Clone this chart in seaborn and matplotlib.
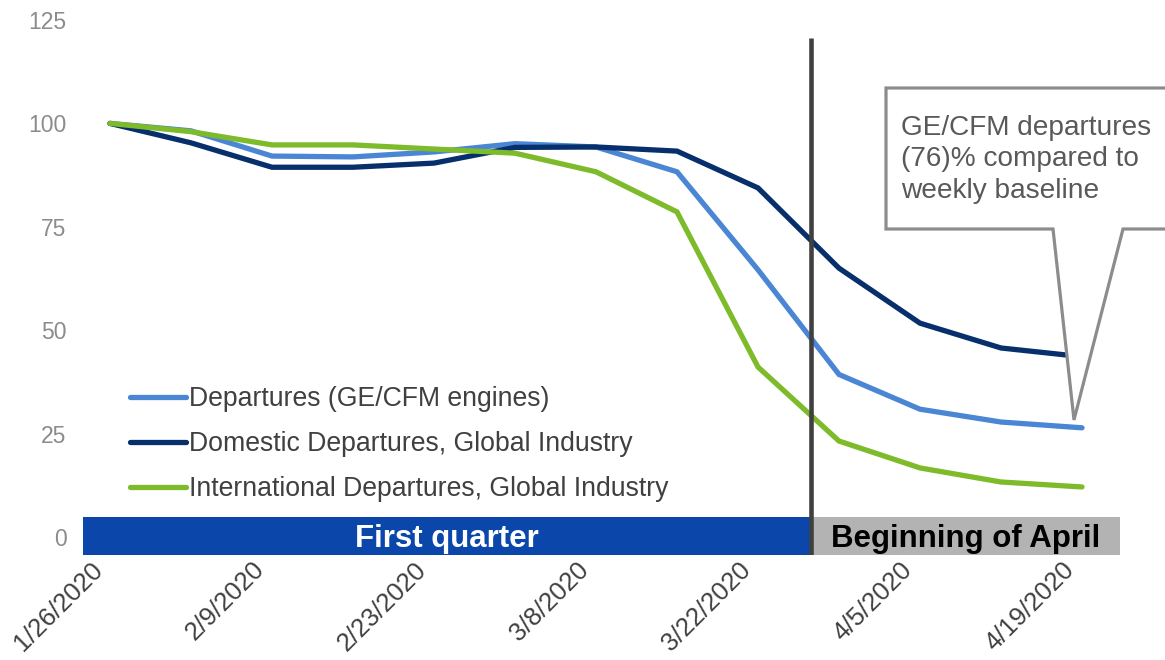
import matplotlib
matplotlib.use("Agg")
import matplotlib.pyplot as plt
import matplotlib.transforms as mtransforms
import seaborn as sns
import pandas as pd
from matplotlib.patches import Rectangle, Polygon

# ---- data ----
weeks = ["1/26/2020", "2/2/2020", "2/9/2020", "2/16/2020", "2/23/2020", "3/1/2020",
         "3/8/2020", "3/15/2020", "3/22/2020", "3/29/2020", "4/5/2020", "4/12/2020",
         "4/19/2020"]
ge_cfm = [100, 98.2, 92.1, 91.9, 93.1, 95.1, 94.3, 88.3, 64.6, 39.3, 30.9, 27.8, 26.4]
domestic = [100, 95.3, 89.4, 89.4, 90.4, 94.2, 94.3, 93.3, 84.4, 65.0, 51.7, 45.7, 43.6]
international = [100, 98.0, 94.8, 94.8, 93.8, 92.8, 88.3, 78.6, 41.1, 23.2, 16.7, 13.3, 12.1]
series_names = ["Departures (GE/CFM engines)",
                "Domestic Departures, Global Industry",
                "International Departures, Global Industry"]
tick_labels = ["1/26/2020", "2/9/2020", "2/23/2020", "3/8/2020", "3/22/2020",
               "4/5/2020", "4/19/2020"]
yticks = [0, 25, 50, 75, 100, 125]
band_labels = ["First quarter", "Beginning of April"]
callout_text = "GE/CFM departures\n(76)% compared to\nweekly baseline"

colors = ["#4A86D4", "#062F6B", "#7DBB2A"]

rows = []
for name, vals in zip(series_names, [ge_cfm, domestic, international]):
    for i, (w, v) in enumerate(zip(weeks, vals)):
        rows.append({"idx": i, "week": w, "value": v, "series": name})
df = pd.DataFrame(rows)

sns.set_theme(style="white")
plt.rcParams["font.family"] = ["Liberation Sans", "DejaVu Sans"]

W, H = 1165, 660
fig = plt.figure(figsize=(W / 100, H / 100), dpi=100)
# axes placement in pixels
xmin, xmax = -0.5, 12.6
ymin, ymax = -4.4, 125
px_per_x = 81.0
left_px = 110 - (0 - xmin) * px_per_x
right_px = 110 + xmax * px_per_x
top_px, bottom_px = 20, 555.2
ax = fig.add_axes([left_px / W, 1 - bottom_px / H, (right_px - left_px) / W,
                   (bottom_px - top_px) / H])

sns.lineplot(data=df, x="idx", y="value", hue="series", palette=colors,
             linewidth=3.8, ax=ax, legend=True, zorder=3)
for ln in ax.get_lines():
    ln.set_solid_capstyle("round")
    ln.set_solid_joinstyle("miter")

ax.set_xlim(xmin, xmax)
ax.set_ylim(ymin, ymax)
ax.set_xlabel("")
ax.set_ylabel("")
for s in ax.spines.values():
    s.set_visible(False)
ax.grid(False)

# x tick labels drawn as rotated texts anchored at each tick
tick_pos = [weeks.index(t) for t in tick_labels]
ax.set_xticks(tick_pos)
ax.set_xticklabels([])
xlab_tr = mtransforms.blended_transform_factory(ax.transData, ax.transAxes) + \
    mtransforms.ScaledTranslation(-0.20, -0.02, fig.dpi_scale_trans)
for p, t in zip(tick_pos, tick_labels):
    ax.text(p, 0, t, transform=xlab_tr, rotation=45, ha="right", va="top",
            rotation_mode="anchor", fontsize=18.5, color="#404040", clip_on=False)

ax.set_yticks(yticks)
ax.set_yticklabels([str(v) for v in yticks], fontsize=16.5, color="#8C8C8C")
ax.tick_params(axis="both", length=0)
ax.tick_params(axis="y", pad=2)

# bands
split = 8.65
bl, br = -0.33, 12.47
b_lo, b_hi = -4.4, 4.8
ax.add_patch(Rectangle((bl, b_lo), split - bl, b_hi - b_lo, facecolor="#0B46AA",
                       edgecolor="none", zorder=2, clip_on=False))
ax.add_patch(Rectangle((split, b_lo), br - split, b_hi - b_lo, facecolor="#B3B3B3",
                       edgecolor="none", zorder=2, clip_on=False))
ax.text((bl + split) / 2, (b_lo + b_hi) / 2 - 0.8, band_labels[0], color="white",
        fontsize=22.5, fontweight="bold", ha="center", va="center", zorder=5)
ax.text((split + br) / 2, (b_lo + b_hi) / 2 - 0.8, band_labels[1], color="black",
        fontsize=22.5, fontweight="bold", ha="center", va="center", zorder=5)

# vertical divider
ax.vlines(split, b_lo, 120.6, color="#404040", linewidth=3.3, zorder=4)

# legend
handles, labels = ax.get_legend_handles_labels()
for h in handles:
    h.set_linewidth(3.8)
    h.set_solid_capstyle("round")
leg = ax.legend(handles, labels, loc="upper left",
                bbox_to_anchor=(130 / W, 1 - 386 / H), bbox_transform=fig.transFigure,
                frameon=False, fontsize=19.2, handlelength=2.1, handletextpad=0.1,
                labelspacing=0.72, borderpad=0, borderaxespad=0)
for t in leg.get_texts():
    t.set_color("#404040")

# callout
tip_x = 12 - 8 / px_per_x
tip_y = ge_cfm[-1] + 1.9
tip_disp = ax.transData.transform((tip_x, tip_y))
tip_px = (tip_disp[0], H - tip_disp[1])
verts_px = [(886, 88), (1175, 88), (1175, 229), (1123, 229), tip_px,
            (1053, 229), (886, 229)]
verts = [(x / W, 1 - y / H) for x, y in verts_px]
fig.patches.append(Polygon(verts, closed=True, transform=fig.transFigure,
                           facecolor="white", edgecolor="#8C8C8C", linewidth=2.3,
                           zorder=10, joinstyle="miter"))
fig.text(901 / W, 1 - 115 / H, callout_text, fontsize=20.2, color="#595959",
         ha="left", va="top", linespacing=1.27, zorder=11)

fig.savefig("out.png", dpi=100)
